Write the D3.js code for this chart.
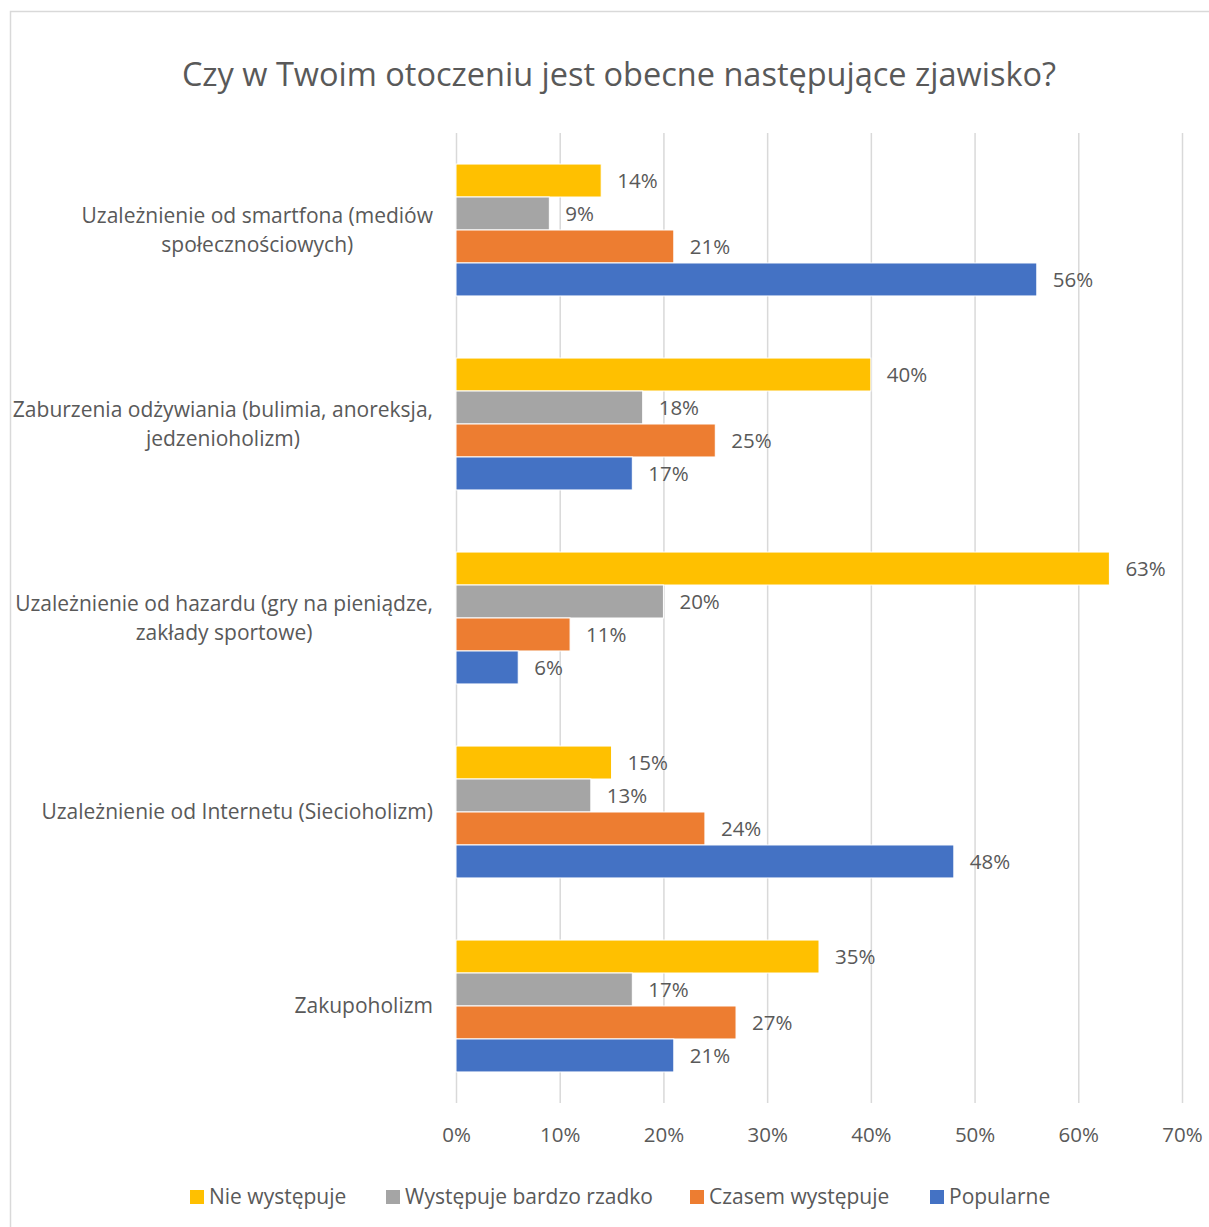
<!DOCTYPE html>
<html><head><meta charset="utf-8">
<script src="https://cdn.jsdelivr.net/npm/d3@7"></script>
<style>body{margin:0;background:#fff}svg{display:block}text{font-family:"Open Sans","Noto Sans",sans-serif;fill:#595959}</style>
</head><body>
<svg id="c" width="1209" height="1227"></svg>
<script>
const title = "Czy w Twoim otoczeniu jest obecne następujące zjawisko?";
const categories = [
  ["Uzależnienie od smartfona (mediów", "społecznościowych)"],
  ["Zaburzenia odżywiania (bulimia, anoreksja,", "jedzenioholizm)"],
  ["Uzależnienie od hazardu (gry na pieniądze,", "zakłady sportowe)"],
  ["Uzależnienie od Internetu (Siecioholizm)"],
  ["Zakupoholizm"]
];
const seriesNames = ["Nie występuje", "Występuje bardzo rzadko", "Czasem występuje", "Popularne"];
const seriesColors = ["#FFC000", "#A5A5A5", "#ED7D31", "#4472C4"];
const nieWystepuje = [14, 40, 63, 15, 35];
const bardzoRzadko = [9, 18, 20, 13, 17];
const czasem = [21, 25, 11, 24, 27];
const popularne = [56, 17, 6, 48, 21];
const values = [nieWystepuje, bardzoRzadko, czasem, popularne];
const ticks = [0, 10, 20, 30, 40, 50, 60, 70];

const svg = d3.select("#c");
svg.append("rect").attr("x", 10.5).attr("y", 11.5).attr("width", 1300).attr("height", 1300)
  .attr("fill", "#fff").attr("stroke", "#d9d9d9").attr("stroke-width", 1.5);

svg.append("text").attr("x", 619).attr("y", 86).attr("text-anchor", "middle")
  .style("font-size", "32.5px").text(title);

const x = d3.scaleLinear().domain([0, 70]).range([456, 1182]);
const y0 = d3.scaleBand().domain(d3.range(categories.length)).range([133, 1103]).paddingInner(0.32).paddingOuter(0.16);
const y1 = d3.scaleBand().domain(d3.range(seriesNames.length)).range([0, y0.bandwidth()]);

svg.append("g").selectAll("line").data(ticks).join("line")
  .attr("x1", d => x(d) + 0.5).attr("x2", d => x(d) + 0.5)
  .attr("y1", 133).attr("y2", 1103).attr("stroke", "#d9d9d9").attr("stroke-width", 1.5);

const ax = svg.append("g").attr("transform", "translate(0,1103)")
  .call(d3.axisBottom(x).tickValues(ticks).tickFormat(d => d + "%").tickSize(0).tickPadding(0));
ax.select(".domain").remove();
ax.selectAll("text").attr("y", 24).style("font-size", "20.5px").style("font-family", null).attr("fill", "#595959");

const groups = svg.append("g").selectAll("g").data(categories).join("g")
  .attr("transform", (d, i) => `translate(0,${y0(i)})`);
groups.each(function (cat, ci) {
  const g = d3.select(this);
  seriesNames.forEach((s, si) => {
    const v = values[si][ci];
    g.append("rect").attr("x", x(0)).attr("y", y1(si))
      .attr("width", x(v) - x(0)).attr("height", y1.bandwidth())
      .attr("fill", seriesColors[si]).attr("stroke", "#fff").attr("stroke-width", 1);
    g.append("text").attr("x", x(v) + 16).attr("y", y1(si) + y1.bandwidth() / 2)
      .attr("dy", "0.35em").style("font-size", "20.5px").text(v + "%");
  });
  const cy = y0.bandwidth() / 2;
  const lh = 29;
  const ts = cat.map((ln, li) => g.append("text").attr("text-anchor", "middle")
      .attr("y", cy + (li - (cat.length - 1) / 2) * lh).attr("dy", "0.35em")
      .style("font-size", "21px").text(ln));
  const maxW = d3.max(ts, t => t.node().getComputedTextLength());
  ts.forEach(t => t.attr("x", 433 - maxW / 2));
});

const legX = [190, 386, 690, 930];
const leg = svg.append("g").selectAll("g").data(seriesNames).join("g")
  .attr("transform", (d, i) => `translate(${legX[i]},1197)`);
leg.append("rect").attr("x", 0).attr("y", -7).attr("width", 14).attr("height", 14)
  .attr("fill", (d, i) => seriesColors[i]);
leg.append("text").attr("x", 19).attr("dy", "0.35em").style("font-size", "21px").text(d => d);
</script>
</body></html>
